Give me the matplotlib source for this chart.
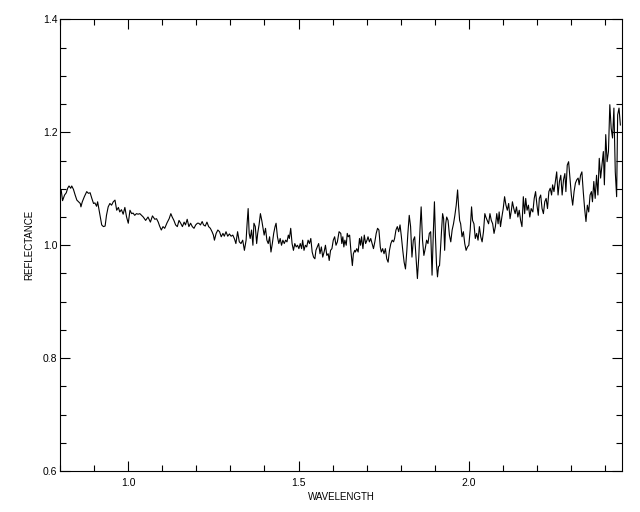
import matplotlib
matplotlib.use("Agg")
import matplotlib.pyplot as plt
from matplotlib.ticker import MultipleLocator

wavelength = [
    0.803, 0.807, 0.813, 0.818, 0.822, 0.826, 0.831, 0.834, 0.839, 0.844,
    0.849, 0.854, 0.859, 0.861, 0.865, 0.871, 0.878, 0.883, 0.888, 0.893,
    0.898, 0.902, 0.907, 0.910, 0.914, 0.917, 0.922, 0.927, 0.932, 0.936,
    0.941, 0.946, 0.951, 0.956, 0.961, 0.966, 0.971, 0.975, 0.980, 0.985,
    0.990, 0.995, 1.000, 1.005, 1.010, 1.014, 1.019, 1.024, 1.029, 1.034,
    1.044, 1.051, 1.058, 1.065, 1.071, 1.078, 1.083, 1.088, 1.092, 1.097,
    1.102, 1.107, 1.114, 1.120, 1.125, 1.129, 1.134, 1.139, 1.144, 1.149,
    1.154, 1.159, 1.164, 1.168, 1.173, 1.178, 1.183, 1.188, 1.193, 1.198,
    1.203, 1.207,
    1.212, 1.217, 1.221, 1.226, 1.231, 1.236, 1.241, 1.246, 1.250, 1.253,
    1.258, 1.263, 1.268, 1.273, 1.278, 1.282, 1.287, 1.292, 1.297, 1.302,
    1.307, 1.312, 1.316, 1.321, 1.326, 1.331, 1.336,
    1.341, 1.346, 1.349, 1.352, 1.355, 1.358, 1.362, 1.366, 1.369, 1.373,
    1.377, 1.380, 1.384, 1.388, 1.392, 1.395, 1.399, 1.403, 1.407, 1.411,
    1.415, 1.419, 1.423, 1.427, 1.431, 1.434, 1.438, 1.442, 1.446, 1.450,
    1.454, 1.458, 1.462, 1.466, 1.470, 1.473, 1.477, 1.481, 1.485, 1.489,
    1.493, 1.497, 1.501, 1.505, 1.509, 1.512, 1.516, 1.520, 1.524, 1.528,
    1.532, 1.536, 1.540, 1.544, 1.548, 1.551, 1.555, 1.559, 1.563, 1.567,
    1.571, 1.575, 1.579, 1.583, 1.587, 1.590, 1.594, 1.598, 1.602, 1.606,
    1.610, 1.614,
    1.619, 1.624, 1.627, 1.630, 1.633, 1.636, 1.640, 1.643, 1.646, 1.650,
    1.654, 1.658, 1.661, 1.665, 1.667, 1.671, 1.675, 1.679, 1.682, 1.685,
    1.689, 1.693, 1.697, 1.701, 1.704, 1.708, 1.712, 1.716, 1.720, 1.724,
    1.728, 1.732, 1.736, 1.740, 1.743, 1.747, 1.751, 1.755, 1.759, 1.763,
    1.767, 1.771, 1.775, 1.779, 1.782, 1.786, 1.790, 1.794, 1.798, 1.802,
    1.806, 1.810, 1.814, 1.818, 1.821, 1.825, 1.829, 1.833, 1.837, 1.841,
    1.845, 1.849, 1.853, 1.857, 1.860, 1.864, 1.868, 1.872, 1.876, 1.880,
    1.884, 1.888, 1.892, 1.896, 1.899,
    1.902, 1.905, 1.908, 1.911, 1.914, 1.917, 1.920, 1.923, 1.926, 1.929,
    1.932, 1.935, 1.939, 1.943, 1.947, 1.951, 1.955, 1.959, 1.963, 1.967,
    1.970, 1.973, 1.976, 1.980, 1.984, 1.988, 1.992, 1.996, 2.000, 2.004,
    2.008, 2.011, 2.015, 2.019, 2.023, 2.027, 2.031, 2.035, 2.039, 2.043,
    2.047, 2.050, 2.054, 2.058, 2.062, 2.066, 2.070, 2.074, 2.078, 2.082,
    2.086, 2.089, 2.093, 2.097, 2.101, 2.105, 2.109, 2.113, 2.117, 2.121,
    2.125, 2.128, 2.132, 2.136, 2.140, 2.144, 2.148, 2.152, 2.156, 2.160,
    2.164, 2.167, 2.171, 2.175, 2.179, 2.183,
    2.188, 2.192, 2.196, 2.200, 2.204, 2.207, 2.211, 2.215, 2.219, 2.223,
    2.227, 2.231, 2.235, 2.239, 2.243, 2.246, 2.250, 2.254, 2.258, 2.262,
    2.266, 2.270, 2.274, 2.278, 2.282, 2.285, 2.289, 2.293, 2.297, 2.301,
    2.305, 2.309, 2.313, 2.317, 2.321, 2.324, 2.328, 2.332, 2.336, 2.340,
    2.344, 2.348, 2.352, 2.356, 2.360, 2.363, 2.367, 2.371, 2.375, 2.379,
    2.383, 2.387, 2.391, 2.395, 2.398, 2.402, 2.406, 2.410, 2.414, 2.418,
    2.422, 2.426, 2.430, 2.434, 2.437, 2.441, 2.445,
]

reflectance = [
    1.098, 1.079, 1.089, 1.093, 1.101, 1.105, 1.101, 1.105, 1.099, 1.089,
    1.080, 1.077, 1.074, 1.068, 1.077, 1.086, 1.095, 1.092, 1.093, 1.083,
    1.074, 1.075, 1.069, 1.077, 1.063, 1.053, 1.036, 1.033, 1.034, 1.053,
    1.068, 1.074, 1.071, 1.077, 1.080, 1.062, 1.067, 1.059, 1.063, 1.055,
    1.067, 1.050, 1.039, 1.062, 1.056, 1.057, 1.053, 1.056, 1.055, 1.056,
    1.050, 1.044, 1.050, 1.041, 1.052, 1.046, 1.047, 1.041, 1.034, 1.027,
    1.033, 1.030, 1.040, 1.047, 1.056, 1.050, 1.044, 1.036, 1.033, 1.044,
    1.039, 1.033, 1.041, 1.036, 1.046, 1.033, 1.039, 1.033, 1.030, 1.036,
    1.039, 1.039,
    1.036, 1.042, 1.036, 1.034, 1.041, 1.033, 1.030, 1.024, 1.018, 1.009,
    1.021, 1.027, 1.024, 1.015, 1.021, 1.016, 1.024, 1.016, 1.020, 1.016,
    1.018, 1.011, 1.003, 1.024, 1.006, 1.003, 1.009,
    0.991, 1.009, 1.039, 1.065, 1.021, 1.012, 1.027, 1.000, 1.039, 1.033,
    1.003, 1.021, 1.036, 1.056, 1.044, 1.033, 1.018, 1.030, 1.009, 1.003,
    1.015, 0.988, 1.003, 1.021, 1.033, 1.039, 1.015, 1.003, 1.012, 1.000,
    1.009, 1.003, 1.009, 1.006, 1.018, 1.012, 1.030, 1.003, 0.991, 1.003,
    0.997, 1.000, 0.994, 1.003, 0.994, 1.009, 0.991, 1.000, 0.997, 1.009,
    1.003, 1.012, 0.988, 0.979, 0.976, 0.991, 0.997, 1.003, 0.985, 0.997,
    0.979, 0.988, 1.000, 0.982, 0.985, 0.973, 0.991, 0.994, 1.009, 1.015,
    1.000, 1.006,
    1.024, 1.021, 1.003, 1.015, 0.997, 1.009, 1.000, 1.021, 1.015, 1.018,
    0.988, 0.964, 0.985, 0.991, 0.988, 0.994, 0.988, 1.012, 1.000, 1.015,
    0.994, 1.018, 1.003, 1.009, 1.015, 1.006, 1.012, 1.003, 0.994, 1.006,
    1.021, 1.030, 1.027, 0.997, 0.988, 0.994, 0.985, 0.994, 0.976, 0.970,
    0.991, 1.003, 1.009, 1.006, 1.012, 1.027, 1.033, 1.024, 1.036, 1.015,
    0.991, 0.970, 0.958, 0.991, 1.021, 1.053, 1.033, 0.979, 1.009, 1.015,
    0.979, 0.941, 0.979, 1.033, 1.068, 1.009, 0.982, 0.994, 1.009, 1.003,
    1.021, 1.024, 0.947, 1.027, 1.077,
    1.015, 0.967, 0.944, 0.962, 0.964, 0.997, 1.027, 1.056, 1.047, 0.991,
    1.038, 1.050, 1.044, 1.018, 1.006, 1.027, 1.038, 1.053, 1.071, 1.098,
    1.068, 1.044, 1.038, 1.015, 1.024, 1.003, 0.991, 0.997, 1.000, 1.027,
    1.068, 1.044, 1.038, 1.012, 1.021, 1.009, 1.033, 1.015, 1.006, 1.024,
    1.056, 1.050, 1.044, 1.038, 1.056, 1.044, 1.038, 1.021, 1.033, 1.056,
    1.038, 1.059, 1.033, 1.050, 1.065, 1.086, 1.071, 1.062, 1.074, 1.047,
    1.062, 1.077, 1.065, 1.056, 1.068, 1.050, 1.062, 1.044, 1.033, 1.086,
    1.056, 1.083, 1.062, 1.071, 1.050, 1.065,
    1.059, 1.083, 1.095, 1.071, 1.053, 1.083, 1.089, 1.065, 1.056, 1.077,
    1.083, 1.065, 1.095, 1.101, 1.089, 1.107, 1.095, 1.113, 1.130, 1.089,
    1.113, 1.124, 1.089, 1.116, 1.127, 1.095, 1.142, 1.148, 1.119, 1.089,
    1.071, 1.095, 1.110, 1.116, 1.119, 1.107, 1.124, 1.130, 1.095, 1.065,
    1.042, 1.071, 1.059, 1.089, 1.095, 1.077, 1.113, 1.083, 1.124, 1.089,
    1.154, 1.119, 1.142, 1.166, 1.107, 1.196, 1.148, 1.166, 1.249, 1.207,
    1.190, 1.243, 1.130, 1.086, 1.231, 1.243, 1.213,
]

x_limits = (0.8, 2.45)
y_limits = (0.6, 1.4)

font = ["Liberation Sans", "DejaVu Sans"]

fig = plt.figure(figsize=(6.4, 5.12), dpi=100)
ax = fig.add_axes([0.094, 0.080, 0.878, 0.882])
ax.plot(wavelength, reflectance, color="black", linewidth=0.8)

ax.set_xlim(*x_limits)
ax.set_ylim(*y_limits)
ax.xaxis.set_major_locator(MultipleLocator(0.5))
ax.xaxis.set_minor_locator(MultipleLocator(0.1))
ax.yaxis.set_major_locator(MultipleLocator(0.2))
ax.yaxis.set_minor_locator(MultipleLocator(0.05))
ax.xaxis.set_major_formatter(plt.FormatStrFormatter("%.1f"))
ax.yaxis.set_major_formatter(plt.FormatStrFormatter("%.1f"))

ax.tick_params(which="both", direction="in", top=True, right=True,
               width=0.8, colors="black")
ax.tick_params(which="major", length=7)
ax.tick_params(which="minor", length=4.5)
ax.tick_params(axis="x", which="major", pad=5)
ax.tick_params(axis="y", which="major", pad=2)
for lab in ax.get_xticklabels() + ax.get_yticklabels():
    lab.set_fontfamily(font)
    lab.set_fontsize(7.5)
for sp in ax.spines.values():
    sp.set_linewidth(0.8)

ax.set_xlabel("WAVELENGTH", fontsize=7, family=font, labelpad=3)
ax.set_ylabel("REFLECTANCE", fontsize=7, family=font, labelpad=6)

fig.savefig("out.png", dpi=100)
